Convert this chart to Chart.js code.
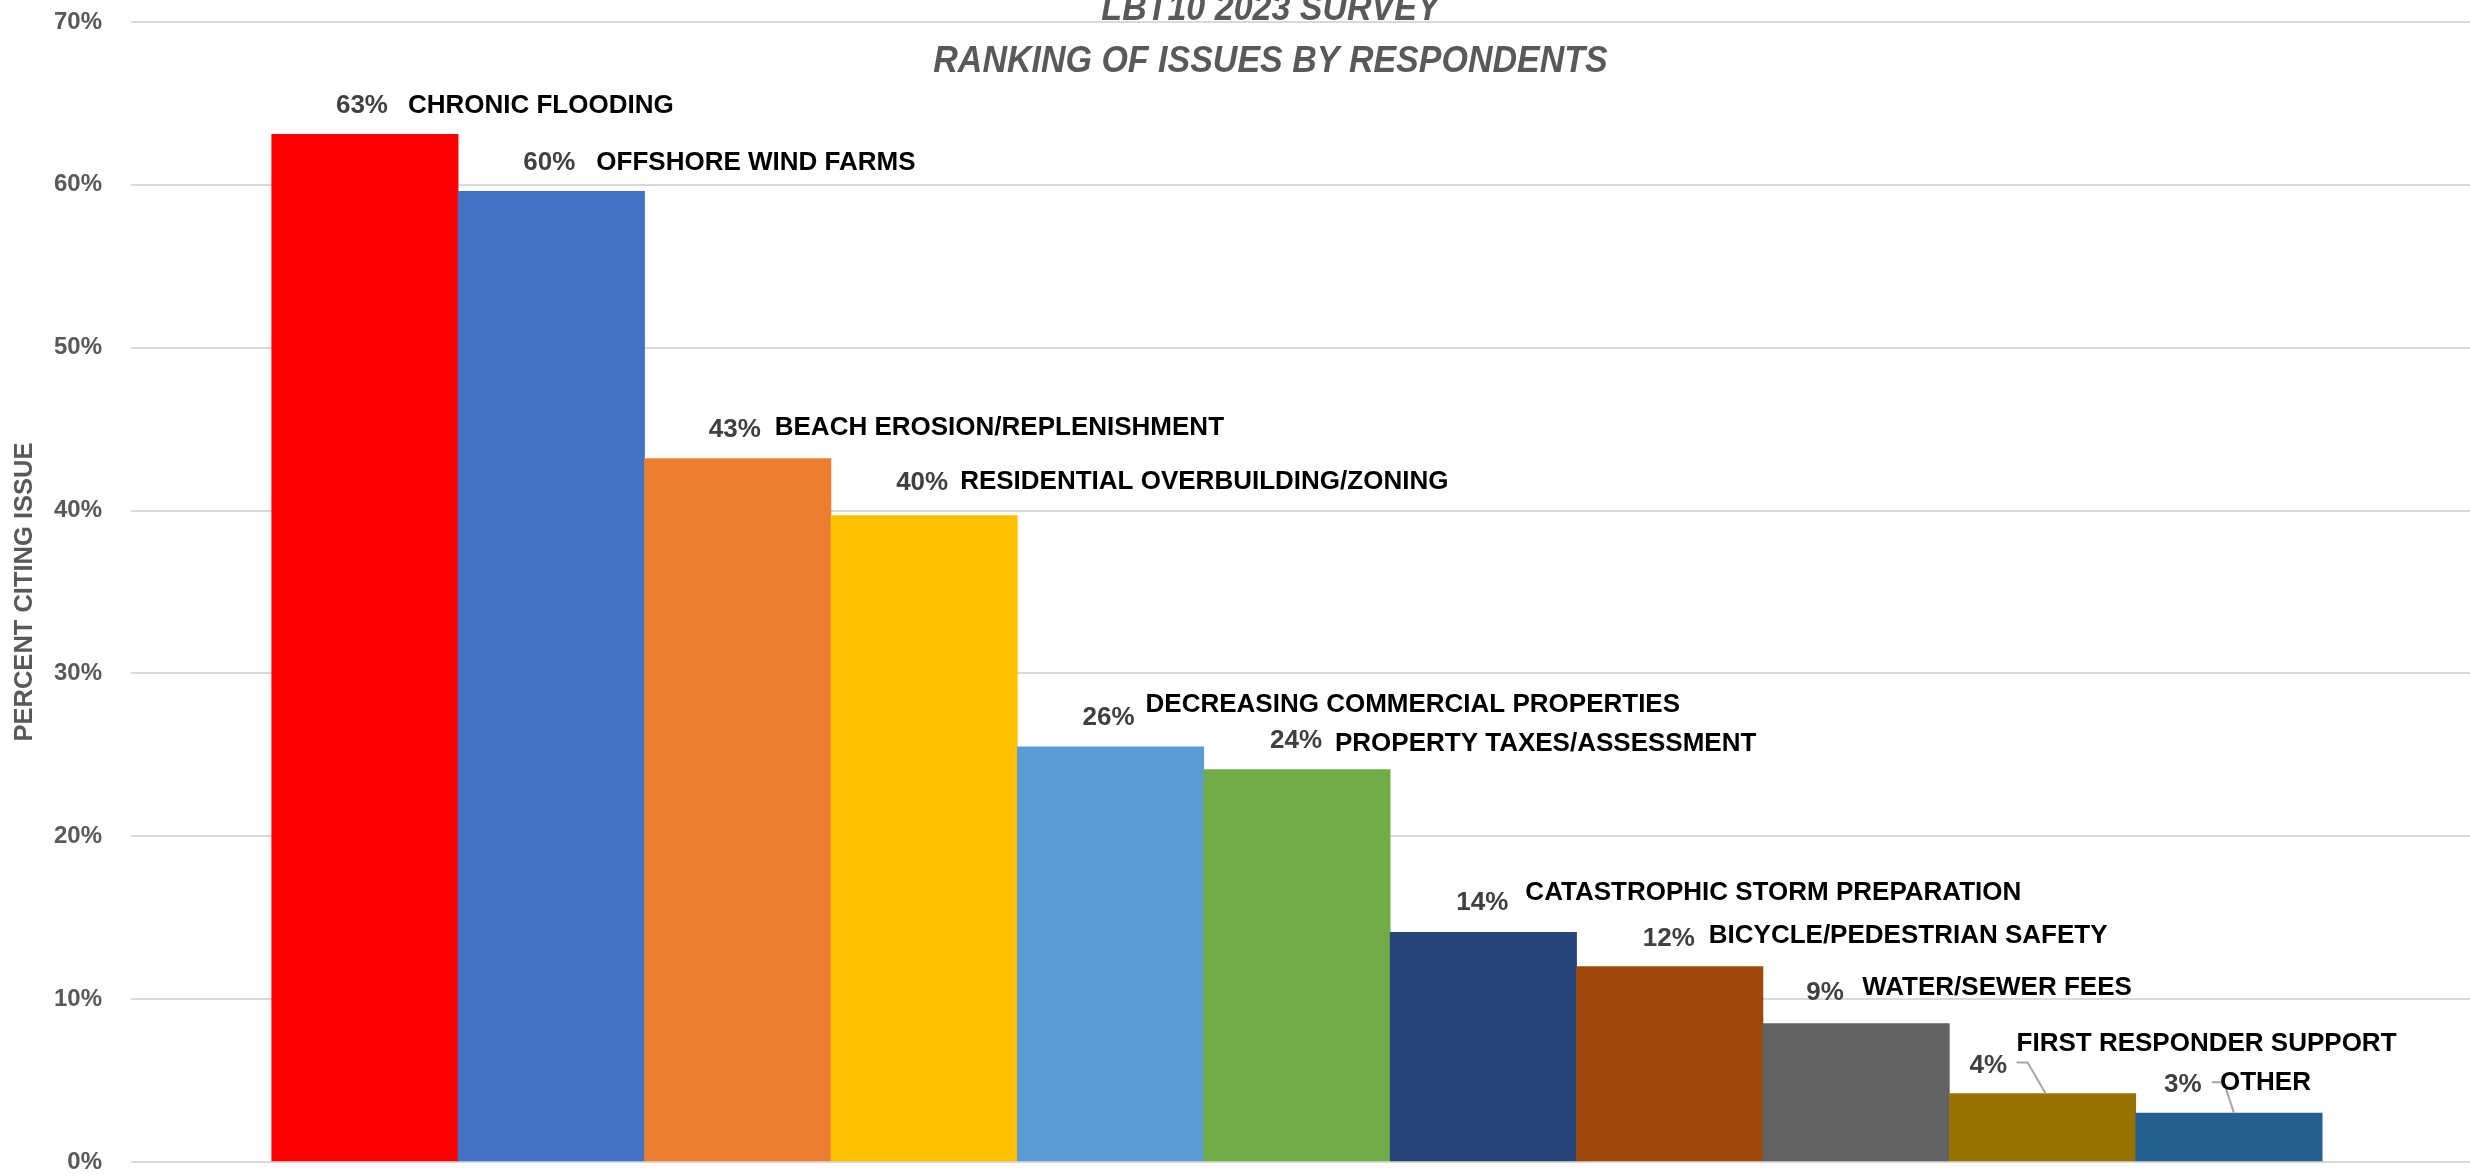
<!DOCTYPE html>
<html>
<head>
<meta charset="utf-8">
<script src="https://cdn.jsdelivr.net/npm/chart.js@4"></script>
<style>
  body { margin: 0; background: #fff; }
  #wrap { width: 2470px; height: 1174px; }
</style>
</head>
<body>
<div id="wrap"><canvas id="issues" width="2470" height="1174"></canvas></div>
<script>
// survey data
const issues = [
  'CHRONIC FLOODING',
  'OFFSHORE WIND FARMS',
  'BEACH EROSION/REPLENISHMENT',
  'RESIDENTIAL OVERBUILDING/ZONING',
  'DECREASING COMMERCIAL PROPERTIES',
  'PROPERTY TAXES/ASSESSMENT',
  'CATASTROPHIC STORM PREPARATION',
  'BICYCLE/PEDESTRIAN SAFETY',
  'WATER/SEWER FEES',
  'FIRST RESPONDER SUPPORT',
  'OTHER'
];
const percentCiting = [63.1, 59.6, 43.2, 39.7, 25.5, 24.1, 14.1, 12.0, 8.5, 4.2, 3.0];
const valueLabels = ['63%', '60%', '43%', '40%', '26%', '24%', '14%', '12%', '9%', '4%', '3%'];
const titleLines = ['LBT10 2023 SURVEY', 'RANKING OF ISSUES BY RESPONDENTS'];

const barColors = ['#FF0000', '#4472C4', '#ED7D31', '#FFC000', '#5B9BD5', '#70AD47',
                   '#264478', '#9E480E', '#636363', '#997300', '#255E91'];

// label placement relative to the top centre of each bar: [valX, valY, catX, catY]
const labelPos = [
  [-29, -21, 43, -21],
  [-28, -21, 45, -21],
  [-29, -21, 37, -23],
  [-28, -25, 36, -26],
  [-28, -22, 35, -35],
  [-27, -22, 38, -19],
  [-27, -22, 42, -32],
  [-27, -21, 39, -24],
  [-50, -24, 6, -29],
  [-73, -21, -26, -43],
  [-65, -21, -9, -23]
];
// leader lines for the two small bars
const leaders = {
  9: [[-26, -31], [-15, -31], [3, 0]],
  10: [[-17, -31], [-5, -31], [5, 0]]
};

const ctx = document.getElementById('issues');

const barLabels = {
  id: 'barLabels',
  afterDatasetsDraw(chart) {
    const c = chart.ctx;
    const meta = chart.getDatasetMeta(0);
    c.save();
    c.textBaseline = 'alphabetic';
    c.textAlign = 'left';
    meta.data.forEach((bar, i) => {
      const p = labelPos[i];
      if (leaders[i]) {
        c.strokeStyle = '#a6a6a6';
        c.lineWidth = 2;
        c.beginPath();
        leaders[i].forEach((pt, k) => {
          if (k === 0) c.moveTo(bar.x + pt[0], bar.y + pt[1]);
          else c.lineTo(bar.x + pt[0], bar.y + pt[1]);
        });
        c.stroke();
      }
      c.font = 'bold 26px "Liberation Sans", Arial, sans-serif';
      c.fillStyle = '#404040';
      c.fillText(valueLabels[i], bar.x + p[0], bar.y + p[1]);
      c.fillStyle = '#000000';
      c.fillText(issues[i], bar.x + p[2], bar.y + p[3]);
    });
    c.restore();
  }
};

// two-line title, first line partly cut off at the top like the original
const titlePlugin = {
  id: 'topTitle',
  afterDraw(chart) {
    const c = chart.ctx;
    const cx = chart.chartArea.left + (chart.chartArea.right - chart.chartArea.left) / 2 - 30;
    c.save();
    c.font = 'italic bold 34px "Liberation Sans", Arial, sans-serif';
    c.fillStyle = '#595959';
    c.textAlign = 'center';
    c.textBaseline = 'alphabetic';
    [20, 72].forEach((base, i) => {
      c.save();
      c.translate(cx, base);
      c.scale(1, 1.1);
      c.fillText(titleLines[i], 0, 0);
      c.restore();
    });
    c.restore();
  }
};

new Chart(ctx, {
  type: 'bar',
  data: {
    datasets: [{
      label: 'Percent citing issue',
      data: percentCiting.map((v, i) => ({x: i, y: v})),
      backgroundColor: barColors,
      borderWidth: 0,
      barThickness: 'flex',
      barPercentage: 1,
      categoryPercentage: 1
    }]
  },
  options: {
    responsive: false,
    animation: false,
    layout: {
      padding: {top: 22, right: 0, bottom: 12, left: 0}
    },
    scales: {
      x: {
        type: 'linear',
        display: false,
        offset: false,
        bounds: 'data',
        min: -1.255,
        max: 11.293
      },
      y: {
        min: 0,
        max: 70,
        border: {display: false},
        grid: {
          color: '#d9d9d9',
          lineWidth: 2,
          drawTicks: true,
          tickLength: 29,
          tickColor: 'rgba(0,0,0,0)'
        },
        ticks: {
          stepSize: 10,
          padding: 0,
          color: '#595959',
          font: {family: '"Liberation Sans", Arial, sans-serif', size: 24, weight: 'bold', lineHeight: 1},
          callback: (v) => v + '%'
        },
        title: {
          display: true,
          text: 'PERCENT CITING ISSUE',
          color: '#595959',
          font: {family: '"Liberation Sans", Arial, sans-serif', size: 25.5, weight: 'bold'},
          padding: {top: 10, bottom: 0}
        },
        afterFit: (scale) => { scale.width = 131; }
      }
    },
    plugins: {
      legend: {display: false},
      tooltip: {enabled: false}
    }
  },
  plugins: [barLabels, titlePlugin]
});
</script>
</body>
</html>
